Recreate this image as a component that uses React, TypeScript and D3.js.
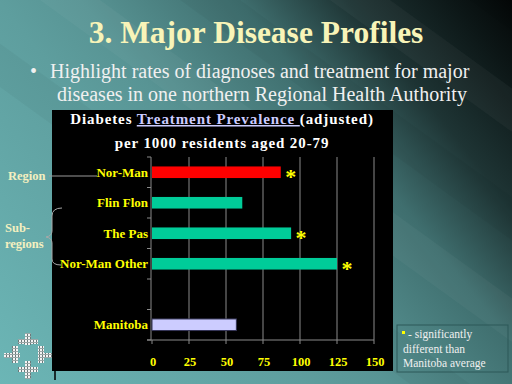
import * as d3 from 'd3';

// chart data
const categories = ['Nor-Man', 'Flin Flon', 'The Pas', 'Nor-Man Other', '', 'Manitoba'];
const rates = [87, 61, 94, 125, null, 57];
const significant = [true, false, true, true, false, false];
const barColors = ['#ff0000', '#00cc99', '#00cc99', '#00cc99', '', '#ccccff'];
const xTicks = [0, 25, 50, 75, 100, 125, 150];

const serif = { fontFamily: "'Liberation Serif', 'Times New Roman', Times, serif" };

function Logo() {
  // four little crosses forming a ring
  const pieces = [
    [25, 333, 6, 12], [18, 339, 20, 5],
    [12, 346, 6, 17], [4, 353, 16, 5],
    [38, 346, 6, 17], [38, 353, 14, 5],
    [25, 361, 6, 18], [18, 367, 20, 5],
  ];
  return (
    <g>
      {pieces.map((p, i) => (
        <rect key={i} x={p[0]} y={p[1]} width={p[2]} height={p[3]} fill="url(#logoPat)" />
      ))}
    </g>
  );
}

export default function App() {
  const x = d3.scaleLinear().domain([0, 150]).range([152, 374]);
  const y = d3
    .scaleBand()
    .domain(categories)
    .range([157, 340])
    .paddingInner(0.62)
    .paddingOuter(0.31);
  const step = y.step();
  const top = 157;
  const bottom = 340;
  const boundaries = d3.range(categories.length + 1).map(i => top + i * step);

  return (
    <svg width={512} height={384} style={{ position: 'absolute', left: 0, top: 0 }}>
      <defs>
        <linearGradient id="bg" gradientUnits="userSpaceOnUse" x1={0} y1={387} x2={506} y2={-18}>
          <stop offset="0" stopColor="#6cb6b6" />
          <stop offset="0.37" stopColor="#5e9e9e" />
          <stop offset="0.47" stopColor="#589494" />
          <stop offset="0.66" stopColor="#3f6e6e" />
          <stop offset="0.79" stopColor="#1e3434" />
          <stop offset="0.92" stopColor="#0c1616" />
          <stop offset="1" stopColor="#030505" />
        </linearGradient>
        <pattern id="logoPat" width={3} height={3} patternUnits="userSpaceOnUse">
          <rect width={3} height={3} fill="#f4f4f4" />
          <rect width={1} height={3} fill="#6a7a7a" />
          <rect width={3} height={1} fill="#9aa6a6" />
        </pattern>
      </defs>
      <rect width={512} height={384} fill="url(#bg)" />
      {/* faint diagonal bands */}
      {[-120, 40, 180, 330, 470].map((o, i) => (
        <path
          key={i}
          d={`M${o},0 L${o + 60},0 L${o + 60 + 530},384 L${o + 530},384 Z`}
          fill={i % 2 ? '#ffffff' : '#000000'}
          opacity={0.035}
        />
      ))}

      <g style={serif}>
        <text x={256} y={43} textAnchor="middle" fontWeight="bold" fontSize={31.5} fill="#f8f4b8">
          3. Major Disease Profiles
        </text>
        <text fontSize={20} fill="#f0f0f0">
          <tspan x={30} y={78}>•</tspan>
          <tspan x={50} y={78}>Highlight rates of diagnoses and treatment for major</tspan>
          <tspan x={57} y={101}>diseases in one northern Regional Health Authority</tspan>
        </text>

        <rect x={52} y={110} width={341} height={261} fill="#000" />
        <rect x={54} y={371} width={2} height={9} fill="#1a2a2a" />

        <text x={222} y={124} textAnchor="middle" fontWeight="bold" fontSize={15} letterSpacing={0.9} fill="#ffffff">
          Diabetes{' '}
          <tspan fill="#ccccff" textDecoration="underline">Treatment Prevalence </tspan>
          (adjusted)
        </text>
        <text x={222} y={148} textAnchor="middle" fontWeight="bold" fontSize={15} letterSpacing={0.9} fill="#ffffff">
          per 1000 residents aged 20-79
        </text>

        {/* grid */}
        {xTicks.slice(1).map(t => (
          <line key={t} x1={x(t)} x2={x(t)} y1={top} y2={bottom} stroke="#8a8a8a" strokeWidth={1} />
        ))}
        <line x1={x(0) - 1} x2={x(0) - 1} y1={top} y2={bottom} stroke="#8a8a8a" />
        {boundaries.map((b, i) => (
          <line key={i} x1={x(0) - 5} x2={x(0) - 1} y1={b} y2={b} stroke="#8a8a8a" />
        ))}
        <line x1={x(0) - 5} x2={x(150)} y1={bottom} y2={bottom} stroke="#8a8a8a" />
        {xTicks.map(t => (
          <g key={t}>
            <line x1={x(t)} x2={x(t)} y1={bottom} y2={bottom + 4} stroke="#8a8a8a" />
            <text x={x(t) + 1} y={366} textAnchor="middle" fontWeight="bold" fontSize={12.5} fill="#ffff00">
              {t}
            </text>
          </g>
        ))}

        {/* bars */}
        {categories.map((c, i) => {
          const v = rates[i];
          if (v == null) return null;
          const by = y(c) as number;
          return (
            <g key={c}>
              <rect
                x={x(0)}
                y={by}
                width={x(v) - x(0)}
                height={y.bandwidth()}
                fill={barColors[i]}
                stroke={i === 5 ? '#333355' : 'none'}
                strokeWidth={1}
              />
              <text
                x={x(0) - 4}
                y={by + y.bandwidth() / 2 + 4.5}
                textAnchor="end"
                fontWeight="bold"
                fontSize={13}
                fill="#ffff00"
              >
                {c}
              </text>
              {significant[i] && (
                <text
                  x={x(v) + 10}
                  y={by + y.bandwidth() / 2 + 12}
                  textAnchor="middle"
                  fontWeight="bold"
                  fontSize={22}
                  fill="#ffff00"
                >
                  *
                </text>
              )}
            </g>
          );
        })}

        {/* region annotations */}
        <text x={8} y={180} fontWeight="bold" fontSize={12.5} fill="#f4f0c0">
          Region
        </text>
        <line x1={49} x2={97} y1={176} y2={176} stroke="#9a9a9a" />
        <text fontWeight="bold" fontSize={12.5} fill="#f4f0c0">
          <tspan x={5} y={232}>Sub-</tspan>
          <tspan x={5} y={248}>regions</tspan>
        </text>
        <path
          d="M62,208 Q52,208 52,216 L52,231 Q52,236 46,237 Q52,238 52,243 L52,259 Q52,265 61,265"
          fill="none"
          stroke="#a8a8a8"
        />

        {/* footnote box */}
        <rect x={397} y={325} width={111} height={47} fill="none" stroke="#2c5858" />
        <rect x={402} y={331} width={3} height={3} fill="#ffff00" />
        <text fontSize={11.5} fill="#f0f0f0">
          <tspan x={408} y={338}>- significantly</tspan>
          <tspan x={403} y={353}>different than</tspan>
          <tspan x={403} y={367}>Manitoba average</tspan>
        </text>
      </g>

      <Logo />
    </svg>
  );
}
